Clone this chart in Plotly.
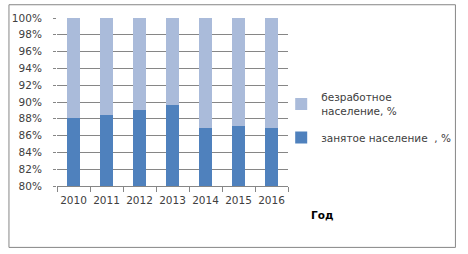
import plotly.graph_objects as go

years = ["2010", "2011", "2012", "2013", "2014", "2015", "2016"]
employed = [88.1, 88.4, 89.1, 89.6, 86.9, 87.1, 86.9]
unemployed = [round(100 - v, 1) for v in employed]
name_emp = "занятое население  , %"
name_unemp = "безработное<br>население, %"
y_ticks = list(range(80, 101, 2))

FONT = "DejaVu Sans"
GRID = "#868686"
TXT = "#404040"

W, H = 468, 254
L, R, T, B = 51, 289, 15, 186

fig = go.Figure()
fig.add_bar(x=years, y=employed, name=name_emp, marker_color="#4F81BD", marker_line_width=0,
            legendgroup="a", legendrank=2)
fig.add_bar(x=years, y=unemployed, name=name_unemp, marker_color="#AABBDA", marker_line_width=0,
            legendgroup="b", legendrank=1)

def px(x):
    return (x - L) / (R - L)

def py(y):
    return (B - y) / (B - T)

fig.update_layout(
    width=W, height=H,
    margin=dict(l=L, r=W - R, t=T, b=H - B),
    barmode="stack",
    bargap=0.59,
    plot_bgcolor="white", paper_bgcolor="white",
    font=dict(family=FONT, size=10.5, color=TXT),
    showlegend=True,
    legend=dict(x=px(282), y=py(82), xanchor="left", yanchor="top",
                traceorder="grouped", font=dict(size=10.5, color=TXT),
                itemwidth=30, tracegroupgap=9, bgcolor="rgba(0,0,0,0)"),
    xaxis=dict(type="category", showline=True, linecolor=GRID, linewidth=1,
               ticks="outside", tickson="boundaries", ticklen=5, tickcolor=GRID,
               tickangle=0, ticklabelstandoff=4, showgrid=False),
    yaxis=dict(range=[80, 100], tickvals=y_ticks, ticktext=[f"{v}%" for v in y_ticks],
               showgrid=True, gridcolor=GRID, gridwidth=1, zeroline=False,
               ticks="outside", ticklen=3, tickcolor=GRID, showline=False,
               ticklabelstandoff=9),
    shapes=[dict(type="rect", xref="paper", yref="paper",
                 x0=px(1.5), x1=px(461.5), y0=py(248.5), y1=py(1.5),
                 line=dict(color=GRID, width=1), fillcolor="rgba(0,0,0,0)", layer="below")],
    annotations=[dict(text="<b>Год</b>", xref="paper", yref="paper",
                      x=px(324), y=py(216), xanchor="center", yanchor="middle",
                      showarrow=False, font=dict(size=10.5, color="#000000"))],
)

fig.write_html("out.html")
